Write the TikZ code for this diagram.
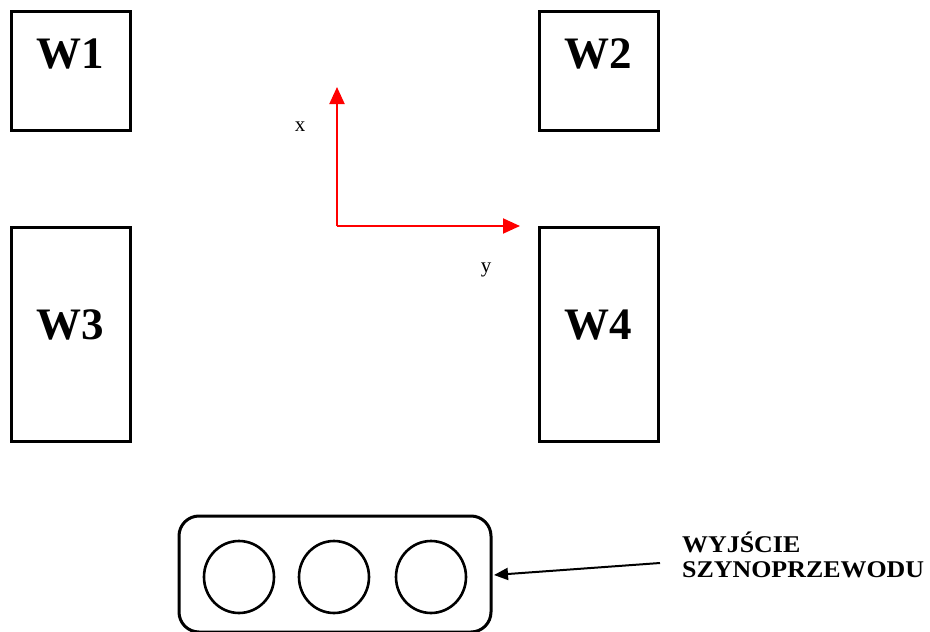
\documentclass[tikz,border=0pt]{standalone}
\usepackage{fontspec}
\setmainfont{Liberation Serif}
\newfontfamily\widefont[FakeStretch=1.08]{Liberation Serif}
\usetikzlibrary{arrows.meta,shapes.geometric}
\begin{document}
\begin{tikzpicture}[x=1pt,y=-1pt,
  wbox/.style={draw=black,line width=3pt,inner sep=0pt,minimum width=119pt},
  wtext/.style={inner sep=0pt,font=\fontsize{45}{45}\selectfont\bfseries},
  axis/.style={draw=red,line width=2pt,-{Triangle[length=17pt,width=15pt]}},
  port/.style={draw=black,line width=2.6pt,ellipse,minimum width=70pt,minimum height=72pt,inner sep=0pt},
  lbl/.style={font=\fontsize{21}{21}\selectfont}]
\useasboundingbox (0,0) rectangle (930,632);
\node[wbox,minimum height=119pt] (w1) at (70.5,71) {};
\node[wbox,minimum height=119pt] (w2) at (598.5,71) {};
\node[wbox,minimum height=214pt] (w3) at (70.5,334.5) {};
\node[wbox,minimum height=214pt] (w4) at (598.5,334.5) {};
\node[wtext,anchor=base] (w1t) at (70.5,68) {W1};
\node[wtext,anchor=base] (w2t) at (598.5,68) {W2};
\node[wtext,anchor=base] (w3t) at (70.5,339) {W3};
\node[wtext,anchor=base] (w4t) at (598.5,339) {W4};
\coordinate (o) at (337,226);
\coordinate (xe) at (337,87);
\coordinate (ye) at (520,226);
\draw[axis] (o) -- (xe);
\draw[axis] (o) -- (ye);
\node[lbl] (xl) at (300,127) {x};
\node[lbl] (yl) at (486,270) {y};
\draw[line width=3pt,rounded corners=20pt] (179,516) rectangle (491,632);
\coordinate (boxr) at (491,575);
\node[port] (c1) at (239,577) {};
\node[port] (c2) at (334,577) {};
\node[port] (c3) at (431,577) {};
\node[anchor=base west,align=left,inner sep=0pt,font=\widefont\fontsize{24}{25}\selectfont\bfseries] (t) at (682,577) {WYJŚCIE\\SZYNOPRZEWODU};
\coordinate (as) at (660,563);
\draw[line width=2pt,-{Triangle[length=14pt,width=12pt]}] (as) -- (494,575);
\end{tikzpicture}
\end{document}
